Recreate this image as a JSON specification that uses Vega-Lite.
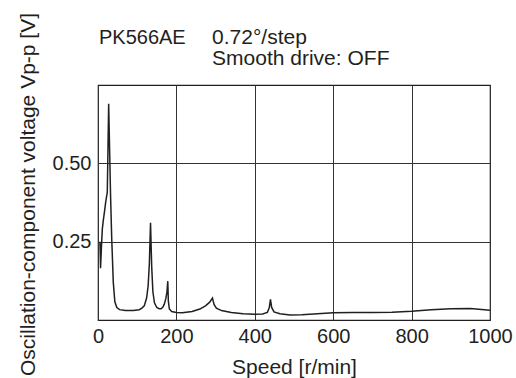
{
  "$schema": "https://vega.github.io/schema/vega-lite/v6.json",
  "width": 392,
  "height": 235,
  "autosize": {"type": "none"},
  "padding": {"left": 98, "top": 85, "right": 26, "bottom": 58},
  "background": "white",
  "config": {
    "view": {"stroke": "#231f20", "strokeWidth": 1.2},
    "font": "Liberation Sans",
    "axis": {
      "domain": false,
      "ticks": false,
      "tickSize": 0,
      "grid": true,
      "gridColor": "#333333",
      "gridOpacity": 1,
      "gridWidth": 1,
      "labelFont": "Liberation Sans",
      "labelFontSize": 20,
      "labelColor": "#231f20",
      "titleFont": "Liberation Sans",
      "titleFontSize": 21,
      "titleFontWeight": "normal",
      "titleColor": "#231f20"
    }
  },
  "layer": [
    {
      "data": {
        "values": [
          {"speed": 5, "v": 0.25},
          {"speed": 6.5, "v": 0.165},
          {"speed": 9, "v": 0.24},
          {"speed": 11, "v": 0.29},
          {"speed": 13.5, "v": 0.318},
          {"speed": 17, "v": 0.35},
          {"speed": 19.6, "v": 0.376},
          {"speed": 23.7, "v": 0.408},
          {"speed": 25.5, "v": 0.55},
          {"speed": 27.2, "v": 0.69},
          {"speed": 30, "v": 0.52},
          {"speed": 32, "v": 0.4},
          {"speed": 35, "v": 0.26},
          {"speed": 39, "v": 0.12},
          {"speed": 43, "v": 0.058},
          {"speed": 48, "v": 0.04},
          {"speed": 55, "v": 0.033},
          {"speed": 70, "v": 0.03},
          {"speed": 90, "v": 0.03},
          {"speed": 105, "v": 0.033},
          {"speed": 112, "v": 0.038},
          {"speed": 118, "v": 0.045},
          {"speed": 124, "v": 0.07},
          {"speed": 128, "v": 0.11},
          {"speed": 131, "v": 0.18},
          {"speed": 134, "v": 0.31},
          {"speed": 137, "v": 0.17},
          {"speed": 140, "v": 0.09},
          {"speed": 144, "v": 0.055},
          {"speed": 150, "v": 0.04},
          {"speed": 156, "v": 0.036},
          {"speed": 161, "v": 0.036},
          {"speed": 166, "v": 0.042},
          {"speed": 169, "v": 0.05},
          {"speed": 173, "v": 0.068},
          {"speed": 176, "v": 0.09},
          {"speed": 178, "v": 0.124},
          {"speed": 179.5, "v": 0.06},
          {"speed": 182, "v": 0.035},
          {"speed": 188, "v": 0.027},
          {"speed": 200, "v": 0.024},
          {"speed": 215, "v": 0.023},
          {"speed": 240, "v": 0.027},
          {"speed": 260, "v": 0.035},
          {"speed": 275, "v": 0.046},
          {"speed": 285, "v": 0.057},
          {"speed": 292, "v": 0.07},
          {"speed": 296, "v": 0.05},
          {"speed": 302, "v": 0.038},
          {"speed": 315, "v": 0.03},
          {"speed": 340, "v": 0.024},
          {"speed": 370, "v": 0.02},
          {"speed": 400, "v": 0.018},
          {"speed": 420, "v": 0.019},
          {"speed": 432, "v": 0.024},
          {"speed": 437, "v": 0.04},
          {"speed": 440, "v": 0.066},
          {"speed": 443, "v": 0.04},
          {"speed": 449, "v": 0.026},
          {"speed": 464, "v": 0.02},
          {"speed": 490, "v": 0.016},
          {"speed": 520, "v": 0.017},
          {"speed": 560, "v": 0.02},
          {"speed": 600, "v": 0.023},
          {"speed": 650, "v": 0.024},
          {"speed": 700, "v": 0.024},
          {"speed": 750, "v": 0.025},
          {"speed": 800, "v": 0.028},
          {"speed": 850, "v": 0.033},
          {"speed": 900, "v": 0.036},
          {"speed": 950, "v": 0.037},
          {"speed": 1000, "v": 0.031}
        ]
      },
      "mark": {"type": "line", "color": "#231f20", "strokeWidth": 1.5, "clip": true},
      "encoding": {
        "x": {
          "field": "speed",
          "type": "quantitative",
          "scale": {"domain": [0, 1000], "nice": false, "zero": false},
          "axis": {
            "title": "Speed [r/min]",
            "values": [0, 200, 400, 600, 800, 1000],
            "format": "d",
            "labelBaseline": "alphabetic",
            "labelPadding": 22,
            "labelFlush": false,
            "titleBaseline": "alphabetic",
            "titleY": 53
          }
        },
        "y": {
          "field": "v",
          "type": "quantitative",
          "scale": {"domain": [0, 0.75], "nice": false},
          "axis": {
            "title": "Oscillation-component voltage Vp-p [V]",
            "values": [0.25, 0.5],
            "format": ".2f",
            "labelPadding": 7,
            "titleBaseline": "alphabetic",
            "titleAngle": -90,
            "titleX": -64,
            "titleY": 109
          }
        }
      }
    },
    {
      "data": {"values": [{"label": "PK566AE"}]},
      "mark": {"type": "text", "align": "left", "baseline": "alphabetic", "fontSize": 20, "font": "Liberation Sans", "color": "#231f20", "clip": false},
      "encoding": {
        "x": {"datum": 2.5, "type": "quantitative"},
        "y": {"datum": 0.881, "type": "quantitative"},
        "text": {"field": "label"}
      }
    },
    {
      "data": {"values": [{"label": "0.72°/step"}]},
      "mark": {"type": "text", "align": "left", "baseline": "alphabetic", "fontSize": 21, "font": "Liberation Sans", "color": "#231f20", "clip": false},
      "encoding": {
        "x": {"datum": 291, "type": "quantitative"},
        "y": {"datum": 0.881, "type": "quantitative"},
        "text": {"field": "label"}
      }
    },
    {
      "data": {"values": [{"label": "Smooth drive: OFF"}]},
      "mark": {"type": "text", "align": "left", "baseline": "alphabetic", "fontSize": 21, "font": "Liberation Sans", "color": "#231f20", "clip": false},
      "encoding": {
        "x": {"datum": 291, "type": "quantitative"},
        "y": {"datum": 0.814, "type": "quantitative"},
        "text": {"field": "label"}
      }
    }
  ]
}
